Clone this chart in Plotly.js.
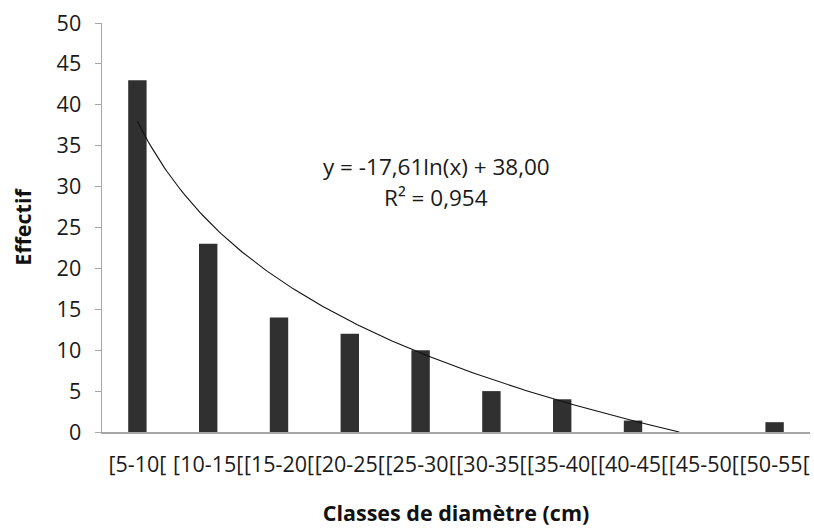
<!DOCTYPE html>
<html>
<head>
<meta charset="utf-8">
<script src="https://cdn.plot.ly/plotly-3.0.1.min.js"></script>
<style>html,body{margin:0;padding:0;background:#fff;}#chart{width:814px;height:531px;}</style>
</head>
<body>
<div id="chart"></div>
<script>
const categories = ["[5-10[", "[10-15[", "[15-20[", "[20-25[", "[25-30[", "[30-35[", "[35-40[", "[40-45[", "[45-50[", "[50-55["];
const effectif = [43, 23, 14, 12, 10, 5, 4, 1.4, 0, 1.2];
const trendA = -17.61;   // y = a ln(x) + b, as printed on the chart
const trendB = 38.00;
const equationLine1 = "y = -17,61ln(x) + 38,00";
const equationLine2 = "R² = 0,954";

const positions = categories.map((c, i) => i + 1);

// trendline evaluated from the printed equation, from x = 1 until it reaches 0
const xEnd = Math.exp(-trendB / trendA);
const tx = [], ty = [];
for (let k = 0; k <= 200; k++) {
  const x = 1 + (xEnd - 1) * k / 200;
  tx.push(x);
  ty.push(Math.max(0, trendA * Math.log(x) + trendB));
}

const font = "Open Sans, Roboto, sans-serif";

const data = [
  {
    type: "bar",
    x: positions,
    y: effectif,
    width: 0.26,
    marker: { color: "#303030", line: { width: 0 } },
    hoverinfo: "x+y"
  },
  {
    type: "scatter",
    mode: "lines",
    x: tx,
    y: ty,
    line: { color: "#111", width: 1.1 },
    hoverinfo: "skip"
  }
];

const layout = {
  width: 814,
  height: 531,
  margin: { l: 102, r: 4, t: 23, b: 99 },
  paper_bgcolor: "#fff",
  plot_bgcolor: "#fff",
  showlegend: false,
  font: { family: font, color: "#1a1a1a", size: 21 },
  xaxis: {
    range: [0.5, 10.5],
    tickmode: "array",
    tickvals: positions,
    ticktext: categories,
    tickangle: 0,
    showgrid: false,
    zeroline: false,
    showline: true,
    linecolor: "#a6a6a6",
    linewidth: 1.5,
    ticks: "",
    tickfont: { family: font, size: 21.5, color: "#1a1a1a" },
    ticklabelstandoff: 13,
    title: { text: "<b>Classes de diamètre (cm)</b>", font: { family: font, size: 21.5, color: "#111" }, standoff: 28 }
  },
  yaxis: {
    range: [0, 50],
    tickmode: "linear",
    tick0: 0,
    dtick: 5,
    showgrid: false,
    zeroline: false,
    showline: true,
    linecolor: "#a6a6a6",
    linewidth: 1.5,
    ticks: "outside",
    ticklen: 6,
    tickcolor: "#a6a6a6",
    tickfont: { family: font, size: 21.5, color: "#1a1a1a" },
    ticklabelstandoff: 9,
    title: { text: "<b>Effectif</b>", font: { family: font, size: 21.5, color: "#111" }, standoff: 19 }
  },
  annotations: [
    {
      xref: "x", yref: "paper", yanchor: "middle",
      x: 5.22, y: 1 - (166 - 23) / 409,
      text: equationLine1,
      showarrow: false,
      font: { family: font, size: 22.5, color: "#1a1a1a" }
    },
    {
      xref: "x", yref: "paper", yanchor: "middle",
      x: 5.22, y: 1 - (198 - 23) / 409,
      text: equationLine2,
      showarrow: false,
      font: { family: font, size: 22.5, color: "#1a1a1a" }
    }
  ]
};

Plotly.newPlot("chart", data, layout, { displayModeBar: false, staticPlot: true });
</script>
</body>
</html>
